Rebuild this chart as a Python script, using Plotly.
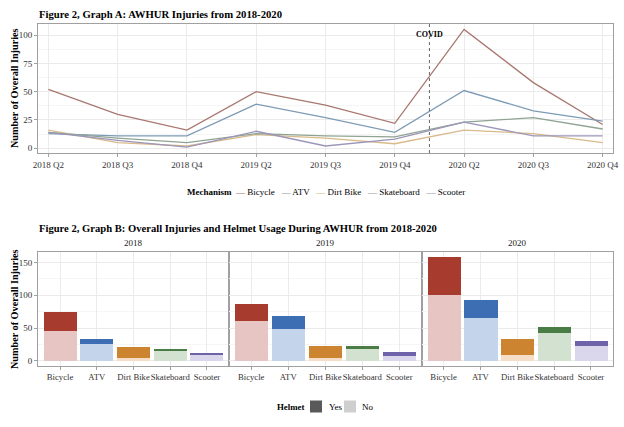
import plotly.graph_objects as go

# ---------------- data ----------------
quarters = ["2018 Q2", "2018 Q3", "2018 Q4", "2019 Q2", "2019 Q3", "2019 Q4",
            "2020 Q2", "2020 Q3", "2020 Q4"]
mechanisms = ["Bicycle", "ATV", "Dirt Bike", "Skateboard", "Scooter"]

bicycle_q = [52, 30, 16, 50, 38, 22, 105, 58, 21]
atv_q = [13, 11, 11, 39, 27, 14, 51, 33, 24]
dirtbike_q = [16, 5, 2, 12, 9, 4, 16, 13, 5]
skateboard_q = [14, 9, 5, 13, 11, 10, 23, 27, 17]
scooter_q = [14, 7, 1, 15, 2, 8, 23, 11, 11]

years = ["2018", "2019", "2020"]
helmet_no = {
    "2018": [46, 25, 4, 15, 9],
    "2019": [60, 49, 4, 19, 8],
    "2020": [101, 66, 9, 42, 23],
}
helmet_yes = {
    "2018": [28, 8, 17, 3, 3],
    "2019": [26, 20, 19, 3, 6],
    "2020": [57, 27, 24, 9, 7],
}
helmet_levels = ["Yes", "No"]

covid_between = ("2019 Q4", "2020 Q2")

# ---------------- styles ----------------
W, H = 624, 427
FONT = "Liberation Serif"
line_colors = ["#A8776F", "#7E9BB5", "#D9BA8A", "#8FA392", "#9B95B9"]
dark_colors = ["#A63B2E", "#3D6DB3", "#CC8430", "#4A7D45", "#6E62A8"]
light_colors = ["#E6C5C2", "#C4D5EB", "#F6DDC5", "#D3E1D0", "#DAD6EB"]
helmet_key_colors = ["#595959", "#CFCFCF"]
GRID = "#EBEBEB"
BORDER = "#A0A0A0"

def px_x(p):
    return p / W

def px_y(p):
    return 1 - p / H

fig = go.Figure()

def note(x, y, text, size, xanchor="center", angle=0, color="black", xref="paper"):
    fig.add_annotation(xref=xref, yref="paper", x=x, y=y, text=text, showarrow=False,
                       xanchor=xanchor, yanchor="middle", textangle=angle,
                       font=dict(family=FONT, size=size, color=color))

# ---------------- Graph A ----------------
series = [bicycle_q, atv_q, dirtbike_q, skateboard_q, scooter_q]
for name, vals, col in zip(mechanisms, series, line_colors):
    fig.add_trace(go.Scatter(
        x=quarters, y=vals, mode="lines", name=name,
        line=dict(color=col, width=1.3),
        xaxis="x", yaxis="y", showlegend=False,
    ))

covid_x = (quarters.index(covid_between[0]) + quarters.index(covid_between[1])) / 2
fig.add_shape(type="line", xref="x", yref="y domain", x0=covid_x, x1=covid_x,
              y0=0, y1=1, line=dict(color="#666666", width=1, dash="dot"))
note(covid_x, px_y(35), "<b>COVID</b>", 8, xref="x")

# ---------------- Graph B ----------------
panel_px = [(38, 229), (229, 421.5), (421.5, 613)]
for k, yr in enumerate(years):
    xa = "x%d" % (k + 2)
    ya = "y%d" % (k + 2)
    for i, m in enumerate(mechanisms):
        fig.add_trace(go.Bar(x=[m], y=[helmet_no[yr][i]], marker=dict(color=light_colors[i], line=dict(width=0)),
                             width=0.9, xaxis=xa, yaxis=ya, showlegend=False))
        fig.add_trace(go.Bar(x=[m], y=[helmet_yes[yr][i]], marker=dict(color=dark_colors[i], line=dict(width=0)),
                             width=0.9, xaxis=xa, yaxis=ya, showlegend=False))
    x0, x1 = panel_px[k]
    note(px_x((x0 + x1) / 2), px_y(243), yr, 9, color="#1A1A1A")

tickfont = dict(family=FONT, size=9, color="#333333")
axis_common = dict(showline=True, mirror=True, linecolor=BORDER, linewidth=1,
                   gridcolor=GRID, gridwidth=1, zeroline=False, automargin=False,
                   ticks="outside", ticklen=3, tickcolor=BORDER, tickfont=tickfont,
                   tickangle=0)

layout = dict(
    width=W, height=H, margin=dict(l=0, r=0, t=0, b=0, autoexpand=False),
    paper_bgcolor="white", plot_bgcolor="white",
    font=dict(family=FONT, color="black"),
    barmode="stack", bargap=0, showlegend=False,
    xaxis=dict(domain=[px_x(38), px_x(613)], anchor="y", range=[-0.15, 8.15],
               type="category", **axis_common),
    yaxis=dict(domain=[px_y(153), px_y(23.5)], anchor="x", range=[-4.2, 110.2],
               tickvals=[0, 25, 50, 75, 100],
               minor=dict(tickvals=[12.5, 37.5, 62.5, 87.5], gridcolor="#F5F5F5", showgrid=True),
               **axis_common),
)
for k in range(3):
    x0, x1 = panel_px[k]
    xa = "xaxis%d" % (k + 2)
    ya = "yaxis%d" % (k + 2)
    xd = dict(domain=[px_x(x0), px_x(x1)], anchor="y%d" % (k + 2), range=[-0.6, 4.6],
              type="category", categoryorder="array", categoryarray=mechanisms,
              **axis_common)
    xd["tickfont"] = dict(family=FONT, size=8.7, color="#333333")
    layout[xa] = xd
    yd = dict(domain=[px_y(366), px_y(252)], anchor="x%d" % (k + 2), range=[-7.9, 165.9],
              tickvals=[0, 50, 100, 150],
              minor=dict(tickvals=[25, 75, 125], gridcolor="#F5F5F5", showgrid=True),
              **axis_common)
    if k > 0:
        yd["showticklabels"] = False
        yd["ticks"] = ""
        yd["matches"] = "y2"
    layout[ya] = yd

fig.update_layout(**layout)

# Mechanism legend (ggplot-style compact keys)
mech_parts = ["<b>Mechanism</b>  "]
for name, col in zip(mechanisms, line_colors):
    mech_parts.append("<span style='color:%s'>\u2014</span> %s   " % (col, name))
note(px_x(325.5), px_y(192), "".join(mech_parts).rstrip(), 9)

# Helmet legend
note(px_x(306), px_y(406.5), "<b>Helmet</b>", 8.8, xanchor="right")
key_left = [310, 344]
for name, col, kl in zip(helmet_levels, helmet_key_colors, key_left):
    fig.add_shape(type="rect", xref="paper", yref="paper",
                  x0=px_x(kl), x1=px_x(kl + 12), y0=px_y(412.5), y1=px_y(400.5),
                  fillcolor=col, line=dict(width=0))
    note(px_x(kl + 16.5), px_y(406.5), name, 9, xanchor="left")

# titles
note(px_x(37), px_y(14), "<b>Figure 2, Graph A: AWHUR Injuries from 2018-2020</b>", 10.7, xanchor="left")
note(px_x(37), px_y(228),
     "<b>Figure 2, Graph B: Overall Injuries and Helmet Usage During AWHUR from 2018-2020</b>",
     10.6, xanchor="left")
for yc in (88, 309):
    note(px_x(14), px_y(yc), "<b>Number of Overall Injuries</b>", 10.2, angle=-90)

fig.write_html("out.html", post_script="document.body.style.margin='0';",
               config={"displayModeBar": False})
